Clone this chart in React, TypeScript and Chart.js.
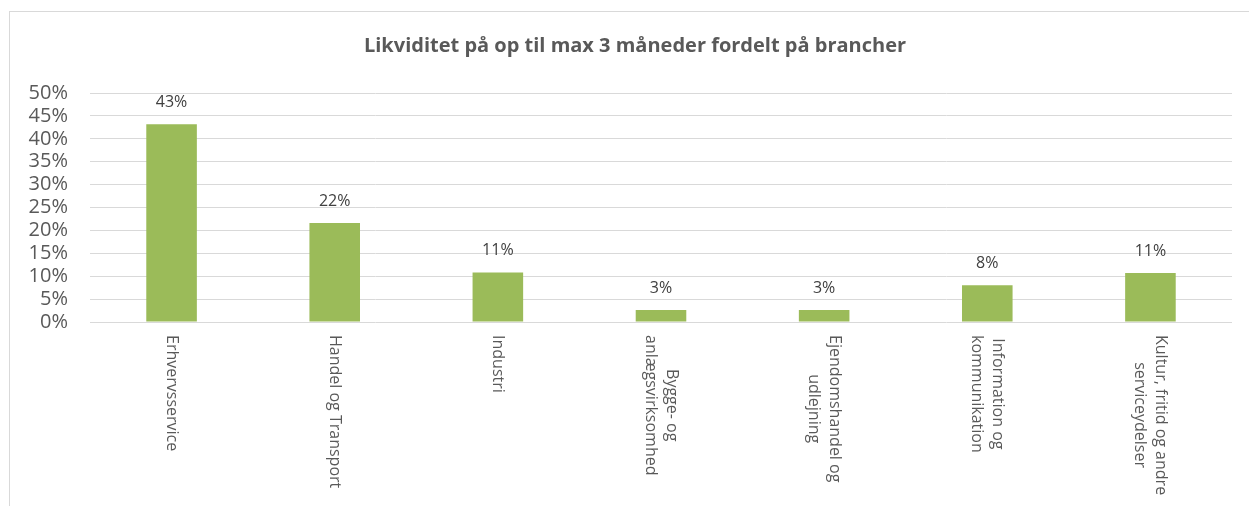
import React, { useEffect, useRef } from "react";
import { Chart, registerables } from "chart.js";

Chart.register(...registerables);

const TITLE = "Likviditet på op til max 3 måneder fordelt på brancher";
const categories: string[][] = [
  ["Erhvervsservice"],
  ["Handel og Transport"],
  ["Industri"],
  ["Bygge- og", "anlægsvirksomhed"],
  ["Ejendomshandel og", "udlejning"],
  ["Information og", "kommunikation"],
  ["Kultur, fritid og andre", "serviceydelser"],
];
const values: number[] = [43.2, 21.6, 10.8, 2.6, 2.6, 8.0, 10.7];
const yTicksMax = 50;
const yTicksStep = 5;

const FONT = "'Open Sans', 'Noto Sans', sans-serif";
const BAR_COLOR = "#9BBB59";
const GRID_COLOR = "#D9D9D9";
const TEXT_COLOR = "#595959";
const LABEL_COLOR = "#404040";

const customPlugin = {
  id: "customText",
  afterDraw(chart: any) {
    const ctx = chart.ctx;
    const area = chart.chartArea;
    ctx.save();
    // Title
    ctx.font = `bold 20px ${FONT}`;
    ctx.fillStyle = TEXT_COLOR;
    ctx.textAlign = "center";
    ctx.textBaseline = "middle";
    ctx.fillText(TITLE, 625, 34);

    // Data labels
    const meta = chart.getDatasetMeta(0);
    ctx.font = `16px ${FONT}`;
    ctx.fillStyle = LABEL_COLOR;
    meta.data.forEach((bar: any, i: number) => {
      const v = chart.data.datasets[0].data[i] as number;
      ctx.fillText(Math.round(v) + "%", bar.x, bar.y - 22);
    });

    // Rotated x labels (reading top to bottom)
    const xScale = chart.scales.x;
    ctx.font = `16px ${FONT}`;
    ctx.fillStyle = TEXT_COLOR;
    const lh = 21;
    categories.forEach((lines, i) => {
      const x = xScale.getPixelForValue(i);
      const top = area.bottom + 13;
      const maxW = Math.max(...lines.map((l) => ctx.measureText(l).width));
      ctx.save();
      ctx.translate(x, top);
      ctx.rotate(Math.PI / 2);
      ctx.textAlign = "center";
      ctx.textBaseline = "middle";
      const n = lines.length;
      lines.forEach((line, j) => {
        const off = (j - (n - 1) / 2) * lh;
        ctx.fillText(line, maxW / 2, off);
      });
      ctx.restore();
    });
    ctx.restore();
  },
};

export default function App() {
  const ref = useRef<HTMLCanvasElement | null>(null);
  useEffect(() => {
    if (!ref.current) return;
    const chart = new Chart(ref.current, {
      type: "bar",
      data: {
        labels: categories.map((c) => c.join(" ")),
        datasets: [
          {
            data: values,
            backgroundColor: BAR_COLOR,
            borderWidth: 0,
            barPercentage: 0.31,
            categoryPercentage: 1,
          },
        ],
      },
      options: {
        animation: false,
        responsive: false,
        layout: { padding: { top: 81, right: 17, left: 0, bottom: 0 } },
        plugins: {
          legend: { display: false },
          title: { display: false },
          tooltip: { enabled: false },
        },
        scales: {
          x: {
            grid: { display: false },
            border: { display: false },
            ticks: { display: false },
            afterFit(scale: any) {
              scale.height = 184;
            },
          },
          y: {
            min: 0,
            max: yTicksMax,
            border: { display: false },
            grid: { color: GRID_COLOR, lineWidth: 1, drawTicks: false },
            ticks: {
              stepSize: yTicksStep,
              autoSkip: false,
              padding: 22,
              color: TEXT_COLOR,
              font: { family: FONT, size: 20 },
              callback: (v: any) => v + "%",
            },
            afterFit(scale: any) {
              scale.width = 80;
            },
          },
        },
      },
      plugins: [customPlugin],
    });
    return () => chart.destroy();
  }, []);

  return (
    <div
      style={{
        position: "absolute",
        left: 9,
        top: 11,
        width: 1240,
        height: 495,
        boxSizing: "border-box",
        borderTop: "1px solid #D9D9D9",
        borderLeft: "1px solid #D9D9D9",
        background: "#fff",
      }}
    >
      <canvas ref={ref} width={1239} height={494} style={{ display: "block" }} />
    </div>
  );
}
